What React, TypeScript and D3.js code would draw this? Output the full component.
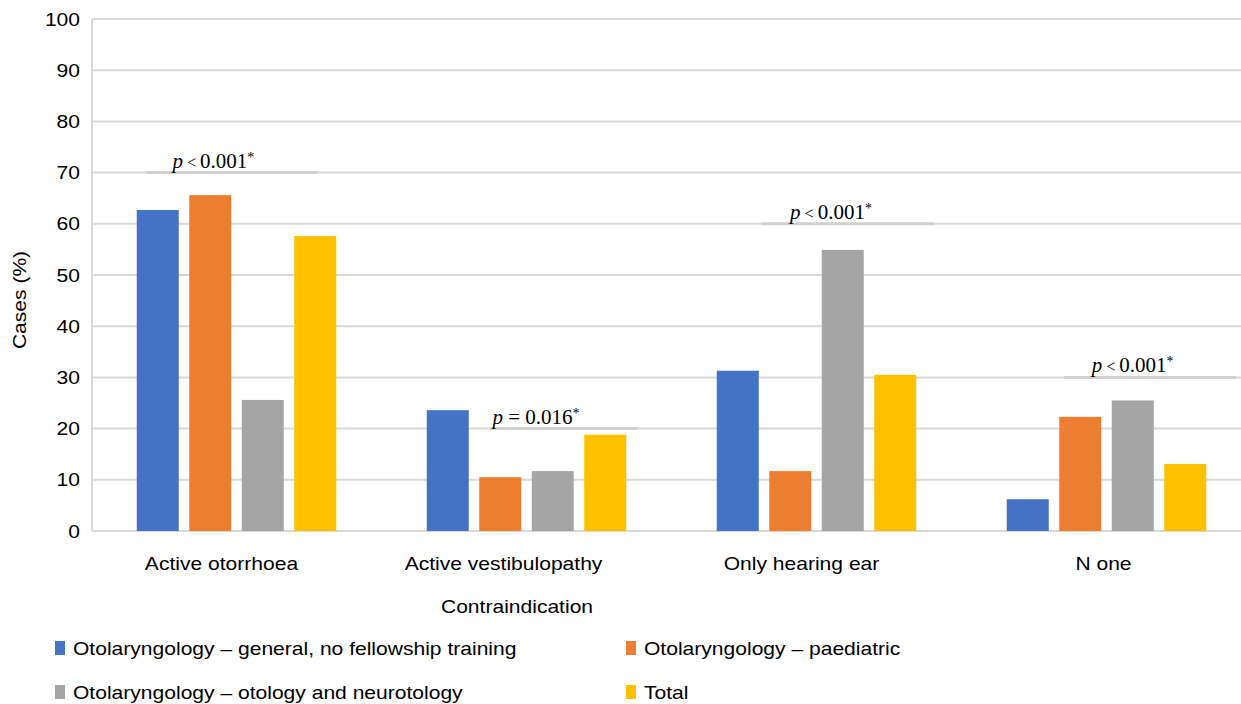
import React from "react";
import * as d3 from "d3";

const categories = ["Active otorrhoea", "Active vestibulopathy", "Only hearing ear", "N one"];
const seriesNames = [
  "Otolaryngology – general, no fellowship training",
  "Otolaryngology – paediatric",
  "Otolaryngology – otology and neurotology",
  "Total",
];
const seriesColors = ["#4472C4", "#ED7D31", "#A5A5A5", "#FFC000"];
const generalValues = [62.7, 23.6, 31.3, 6.2];
const paediatricValues = [65.6, 10.5, 11.7, 22.3];
const otologyValues = [25.6, 11.7, 54.9, 25.5];
const totalValues = [57.6, 18.8, 30.5, 13.1];
const yTicks = [0, 10, 20, 30, 40, 50, 60, 70, 80, 90, 100];
// annotations: category-coordinate (continuous index) positions and y value of the line
const annRel = ["<", "=", "<", "<"];
const annValue = ["0.001", "0.016", "0.001", "0.001"];
const annY = [70, 20, 60, 30];
const annTextX = [0.42, 1.533, 2.55, 3.59];
const annLineFrom = [0.19, 1.374, 2.31, 3.354];
const annLineTo = [0.78, 1.884, 2.905, 3.947];

const W = 1241;
const H = 704;
const SX = 1.17;
const FONT = "'Liberation Sans', Arial, sans-serif";
const SERIF = "'Liberation Serif', 'Times New Roman', serif";

function SText({ x, y, anchor = "start", size = 18, children, fill = "#000" }: any) {
  return (
    <text
      transform={`translate(${x},${y}) scale(${SX},1)`}
      textAnchor={anchor}
      fontFamily={FONT}
      fontSize={size}
      fill={fill}
    >
      {children}
    </text>
  );
}

export default function App() {
  const values = [generalValues, paediatricValues, otologyValues, totalValues];
  const x0 = d3.scaleBand<string>().domain(categories).range([91.5, 1251.5]).padding(0);
  const xc = d3.scaleLinear().domain([0, 4]).range([91.5, 1251.5]);
  const x1 = d3
    .scaleBand<string>()
    .domain(seriesNames)
    .range([0, 210])
    .paddingInner(0.2)
    .paddingOuter(0.1);
  const y = d3.scaleLinear().domain([0, 100]).range([531, 19]);
  const grid = "#d9d9d9";

  return (
    <svg
      width={W}
      height={H}
      style={{ position: "absolute", left: 0, top: 0, background: "#fff" }}
    >
      <rect width={W} height={H} fill="#fff" />
      {yTicks.map((t) => (
        <line key={t} x1={92} x2={W} y1={y(t)} y2={y(t)} stroke={grid} strokeWidth={2} />
      ))}
      <line x1={92} x2={92} y1={y(100)} y2={y(0)} stroke={grid} strokeWidth={2} />
      {yTicks.map((t) => (
        <SText key={"l" + t} x={80} y={y(t) + 6.5} anchor="end">
          {t}
        </SText>
      ))}
      {categories.map((c, ci) => {
        const gx = (x0(c) as number) + x0.bandwidth() / 2 - 105;
        return (
          <g key={c}>
            {seriesNames.map((s, si) => (
              <rect
                key={s}
                x={gx + (x1(s) as number)}
                y={y(values[si][ci])}
                width={x1.bandwidth()}
                height={y(0) - y(values[si][ci])}
                fill={seriesColors[si]}
              />
            ))}
          </g>
        );
      })}
      {categories.map((c, ci) => (
        <SText
          key={"c" + c}
          x={(x0(c) as number) + x0.bandwidth() / 2 - 15 - (ci === 1 ? 8 : 0) + (ci === 3 ? 12 : 0)}
          y={570}
          anchor="middle"
        >
          {c}
        </SText>
      ))}
      {annY.map((v, i) => (
        <g key={"a" + i}>
          <line
            x1={xc(annLineFrom[i])}
            x2={xc(annLineTo[i])}
            y1={y(v)}
            y2={y(v)}
            stroke="#d0d0d0"
            strokeWidth={3}
          />
          <text
            x={xc(annTextX[i])}
            y={y(v) - 5}
            textAnchor="middle"
            fontFamily={SERIF}
            fontSize={21}
            fill="#000"
          >
            <tspan fontStyle="italic">p</tspan>
            <tspan fontSize={annRel[i] === "<" ? 16 : 21}>{"\u00a0" + annRel[i] + "\u00a0"}</tspan>
            <tspan>{annValue[i]}</tspan>
            <tspan fontSize={14} dy={-6}>*</tspan>
          </text>
        </g>
      ))}
      <SText x={517} y={613} anchor="middle">
        Contraindication
      </SText>
      <text
        transform={`translate(26,300) rotate(-90) scale(${SX},1)`}
        textAnchor="middle"
        fontFamily={FONT}
        fontSize={18}
        fill="#000"
      >
        Cases (%)
      </text>
      {seriesNames.map((s, i) => {
        const col = i % 2;
        const row = Math.floor(i / 2);
        const lx = col === 0 ? 55 : 626;
        const ly = row === 0 ? 648 : 692;
        return (
          <g key={"lg" + s}>
            <rect x={lx} y={ly - 7} width={10} height={14} fill={seriesColors[i]} />
            <SText x={lx + 18} y={ly + 6.5}>
              {s}
            </SText>
          </g>
        );
      })}
    </svg>
  );
}
